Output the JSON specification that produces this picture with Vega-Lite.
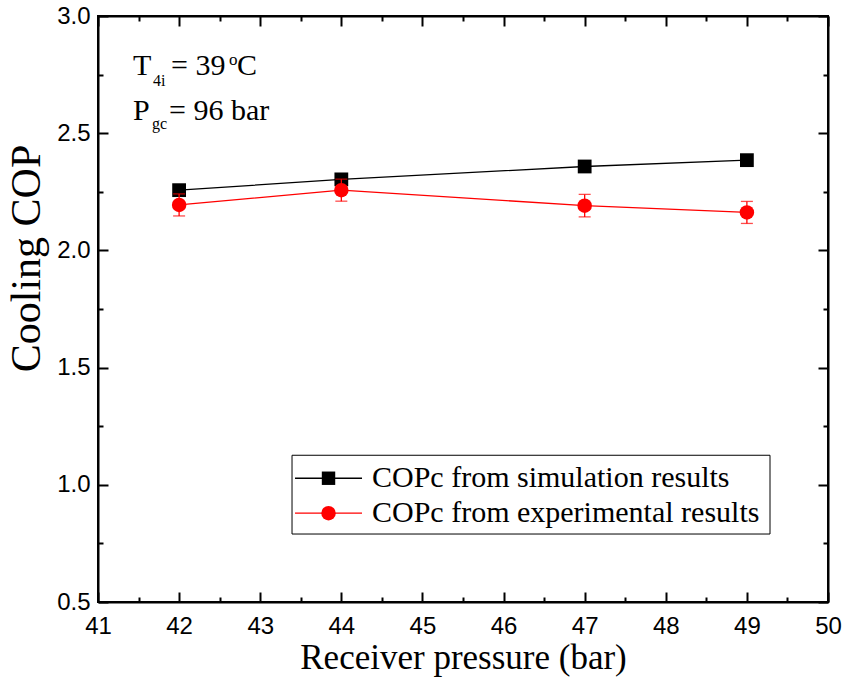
{
  "$schema": "https://vega.github.io/schema/vega-lite/v6.json",
  "width": 730,
  "height": 586,
  "autosize": {"type": "none"},
  "padding": {"left": 98, "top": 16, "right": 17, "bottom": 80},
  "background": "white",
  "config": {
    "view": {"stroke": "black", "strokeWidth": 2},
    "axis": {
      "domainColor": "black", "domainWidth": 2, "tickColor": "black", "tickWidth": 2,
      "grid": false, "labelFont": "Liberation Sans, Arial", "labelFontSize": 24,
      "labelColor": "black", "titleFont": "Liberation Serif, Times New Roman",
      "titleFontWeight": "normal", "titleColor": "black"
    }
  },
  "datasets": {
    "sim": [
      {"p": 42, "cop": 2.257},
      {"p": 44, "cop": 2.303},
      {"p": 47, "cop": 2.358},
      {"p": 49, "cop": 2.385}
    ],
    "exp": [
      {"p": 42, "cop": 2.194, "lo": 2.147, "hi": 2.241},
      {"p": 44, "cop": 2.257, "lo": 2.210, "hi": 2.304},
      {"p": 47, "cop": 2.191, "lo": 2.143, "hi": 2.239},
      {"p": 49, "cop": 2.162, "lo": 2.115, "hi": 2.209}
    ]
  },
  "resolve": {"axis": {"x": "independent", "y": "independent"}},
  "layer": [
    {
      "data": {"name": "sim"},
      "mark": {"type": "line", "color": "black", "strokeWidth": 1.3},
      "encoding": {
        "x": {"field": "p", "type": "quantitative", "scale": {"domain": [41, 50], "nice": false, "zero": false},
          "axis": {"orient": "bottom", "title": "Receiver pressure (bar)", "titleFontSize": 35, "values": [41,42,43,44,45,46,47,48,49,50], "tickSize": -10, "labelPadding": 22, "titlePadding": 2, "format": "d", "labelFlush": false}},
        "y": {"field": "cop", "type": "quantitative", "scale": {"domain": [0.5, 3.0], "nice": false, "zero": false},
          "axis": {"orient": "left", "title": "Cooling COP", "titleFontSize": 42, "titleY": 242, "values": [0.5,1.0,1.5,2.0,2.5,3.0], "tickSize": -10, "labelPadding": 18, "titlePadding": 8, "format": ".1f", "labelFlush": false}}
      }
    },
    {
      "data": {"name": "sim"},
      "mark": {"type": "point", "shape": "square", "filled": true, "color": "black", "size": 190, "opacity": 1},
      "encoding": {
        "x": {"field": "p", "type": "quantitative", "axis": {"orient": "bottom", "title": null, "labels": false, "domain": false, "values": [41.5,42.5,43.5,44.5,45.5,46.5,47.5,48.5,49.5], "tickSize": -5}},
        "y": {"field": "cop", "type": "quantitative", "axis": {"orient": "left", "title": null, "labels": false, "domain": false, "values": [0.75,1.25,1.75,2.25,2.75], "tickSize": -5}}
      }
    },
    {
      "data": {"name": "exp"},
      "mark": {"type": "line", "color": "#ff0000", "strokeWidth": 1.3},
      "encoding": {
        "x": {"field": "p", "type": "quantitative", "axis": {"orient": "top", "title": null, "labels": false, "values": [41,42,43,44,45,46,47,48,49,50], "tickSize": -10}},
        "y": {"field": "cop", "type": "quantitative", "axis": {"orient": "right", "title": null, "labels": false, "values": [0.5,1.0,1.5,2.0,2.5,3.0], "tickSize": -10}}
      }
    },
    {
      "data": {"name": "exp"},
      "mark": {"type": "rule", "color": "#ff0000", "strokeWidth": 1.3},
      "encoding": {
        "x": {"field": "p", "type": "quantitative", "axis": {"orient": "top", "title": null, "labels": false, "domain": false, "values": [41.5,42.5,43.5,44.5,45.5,46.5,47.5,48.5,49.5], "tickSize": -5}},
        "y": {"field": "lo", "type": "quantitative", "axis": {"orient": "right", "title": null, "labels": false, "domain": false, "values": [0.75,1.25,1.75,2.25,2.75], "tickSize": -5}},
        "y2": {"field": "hi"}
      }
    },
    {
      "data": {"name": "exp"},
      "mark": {"type": "tick", "orient": "horizontal", "color": "#ff0000", "thickness": 1.3, "size": 12},
      "encoding": {
        "x": {"field": "p", "type": "quantitative", "axis": null},
        "y": {"field": "lo", "type": "quantitative", "axis": null}
      }
    },
    {
      "data": {"name": "exp"},
      "mark": {"type": "tick", "orient": "horizontal", "color": "#ff0000", "thickness": 1.3, "size": 12},
      "encoding": {
        "x": {"field": "p", "type": "quantitative", "axis": null},
        "y": {"field": "hi", "type": "quantitative", "axis": null}
      }
    },
    {
      "data": {"name": "exp"},
      "mark": {"type": "point", "shape": "circle", "filled": true, "color": "#ff0000", "size": 210, "opacity": 1},
      "encoding": {
        "x": {"field": "p", "type": "quantitative", "axis": null},
        "y": {"field": "cop", "type": "quantitative", "axis": null}
      }
    },
    {
      "data": {"values": [{}]},
      "mark": {"type": "rect", "fill": "white", "stroke": "black", "strokeWidth": 1},
      "encoding": {
        "x": {"datum": 43.392, "type": "quantitative", "axis": null},
        "x2": {"datum": 49.285},
        "y": {"datum": 1.126, "type": "quantitative", "axis": null},
        "y2": {"datum": 0.790}
      }
    },
    {
      "data": {"values": [{}]},
      "mark": {"type": "rule", "color": "black", "strokeWidth": 1.3},
      "encoding": {
        "x": {"datum": 43.429, "type": "quantitative", "axis": null},
        "x2": {"datum": 44.255},
        "y": {"datum": 1.028, "type": "quantitative", "axis": null}
      }
    },
    {
      "data": {"values": [{}]},
      "mark": {"type": "point", "shape": "square", "filled": true, "color": "black", "size": 180, "opacity": 1},
      "encoding": {
        "x": {"datum": 43.842, "type": "quantitative", "axis": null},
        "y": {"datum": 1.028, "type": "quantitative", "axis": null}
      }
    },
    {
      "data": {"values": [{}]},
      "mark": {"type": "rule", "color": "#ff0000", "strokeWidth": 1.3},
      "encoding": {
        "x": {"datum": 43.429, "type": "quantitative", "axis": null},
        "x2": {"datum": 44.255},
        "y": {"datum": 0.879, "type": "quantitative", "axis": null}
      }
    },
    {
      "data": {"values": [{}]},
      "mark": {"type": "point", "shape": "circle", "filled": true, "color": "#ff0000", "size": 210, "opacity": 1},
      "encoding": {
        "x": {"datum": 43.842, "type": "quantitative", "axis": null},
        "y": {"datum": 0.879, "type": "quantitative", "axis": null}
      }
    },
    {
      "data": {"values": [{}]},
      "mark": {"type": "text", "text": "COPc from simulation results", "font": "Liberation Serif", "fontSize": 30, "align": "left", "baseline": "middle", "color": "black"},
      "encoding": {
        "x": {"datum": 44.378, "type": "quantitative", "axis": null},
        "y": {"datum": 1.028, "type": "quantitative", "axis": null}
      }
    },
    {
      "data": {"values": [{}]},
      "mark": {"type": "text", "text": "COPc from experimental results", "font": "Liberation Serif", "fontSize": 30, "align": "left", "baseline": "middle", "color": "black"},
      "encoding": {
        "x": {"datum": 44.378, "type": "quantitative", "axis": null},
        "y": {"datum": 0.879, "type": "quantitative", "axis": null}
      }
    },
    {
      "data": {"values": [{}]},
      "mark": {"type": "text", "text": "T", "font": "Liberation Serif", "fontSize": 30, "align": "left", "baseline": "alphabetic", "color": "black"},
      "encoding": {"x": {"datum": 41.4315, "type": "quantitative", "axis": null}, "y": {"datum": 2.748, "type": "quantitative", "axis": null}}
    },
    {
      "data": {"values": [{}]},
      "mark": {"type": "text", "text": "4i", "font": "Liberation Serif", "fontSize": 16, "align": "left", "baseline": "alphabetic", "color": "black"},
      "encoding": {"x": {"datum": 41.678, "type": "quantitative", "axis": null}, "y": {"datum": 2.701, "type": "quantitative", "axis": null}}
    },
    {
      "data": {"values": [{}]},
      "mark": {"type": "text", "text": "= 39", "font": "Liberation Serif", "fontSize": 30, "align": "left", "baseline": "alphabetic", "color": "black"},
      "encoding": {"x": {"datum": 41.90, "type": "quantitative", "axis": null}, "y": {"datum": 2.748, "type": "quantitative", "axis": null}}
    },
    {
      "data": {"values": [{}]},
      "mark": {"type": "text", "text": "o", "font": "Liberation Serif", "fontSize": 17, "align": "left", "baseline": "alphabetic", "color": "black"},
      "encoding": {"x": {"datum": 42.615, "type": "quantitative", "axis": null}, "y": {"datum": 2.791, "type": "quantitative", "axis": null}}
    },
    {
      "data": {"values": [{}]},
      "mark": {"type": "text", "text": "C", "font": "Liberation Serif", "fontSize": 30, "align": "left", "baseline": "alphabetic", "color": "black"},
      "encoding": {"x": {"datum": 42.714, "type": "quantitative", "axis": null}, "y": {"datum": 2.748, "type": "quantitative", "axis": null}}
    },
    {
      "data": {"values": [{}]},
      "mark": {"type": "text", "text": "P", "font": "Liberation Serif", "fontSize": 30, "align": "left", "baseline": "alphabetic", "color": "black"},
      "encoding": {"x": {"datum": 41.4315, "type": "quantitative", "axis": null}, "y": {"datum": 2.556, "type": "quantitative", "axis": null}}
    },
    {
      "data": {"values": [{}]},
      "mark": {"type": "text", "text": "gc", "font": "Liberation Serif", "fontSize": 16, "align": "left", "baseline": "alphabetic", "color": "black"},
      "encoding": {"x": {"datum": 41.666, "type": "quantitative", "axis": null}, "y": {"datum": 2.518, "type": "quantitative", "axis": null}}
    },
    {
      "data": {"values": [{}]},
      "mark": {"type": "text", "text": "= 96 bar", "font": "Liberation Serif", "fontSize": 30, "align": "left", "baseline": "alphabetic", "color": "black"},
      "encoding": {"x": {"datum": 41.876, "type": "quantitative", "axis": null}, "y": {"datum": 2.556, "type": "quantitative", "axis": null}}
    }
  ]
}
